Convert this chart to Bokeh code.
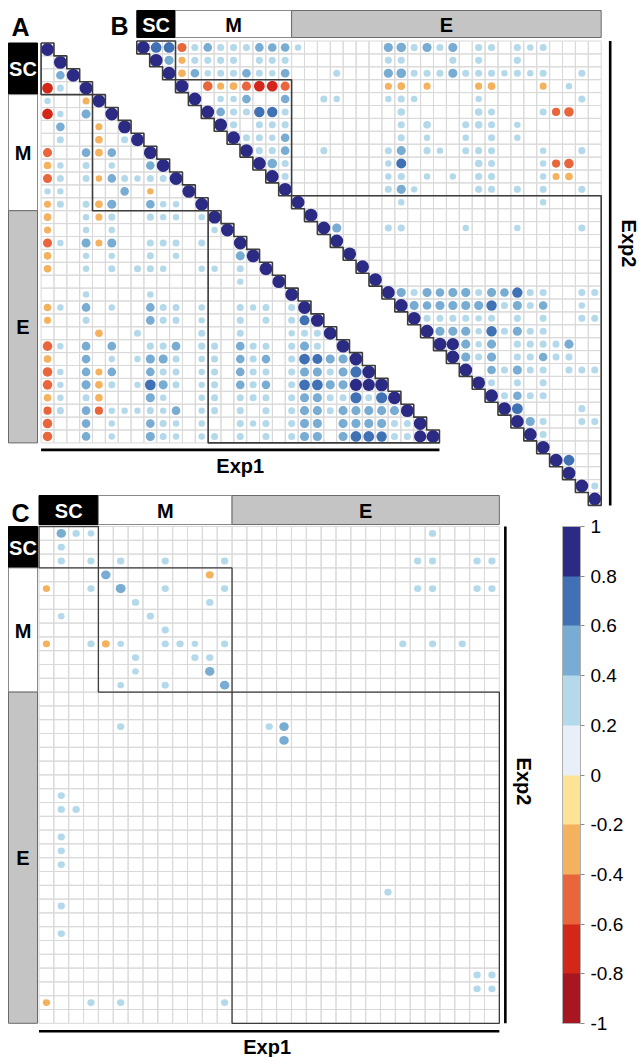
import math
from bokeh.plotting import figure
from bokeh.models import (Range1d, LinearColorMapper, ColorBar, FixedTicker,
                          CustomJSTickFormatter, ColumnDataSource)
from bokeh.core.properties import value
from bokeh.transform import transform
from bokeh.embed import file_html
from bokeh.resources import INLINE

# ---------------- data ----------------
group_names = ["SC", "M", "E"]
exp1_group_sizes = [4, 9, 18]     # 31 variables in Exp1
exp2_group_sizes = [3, 9, 24]     # 36 variables in Exp2

colorbar_ticks = [-1, -0.8, -0.6, -0.4, -0.2, 0, 0.2, 0.4, 0.6, 0.8, 1]
palette = ["#a8161f", "#d3271a", "#e9663c", "#f4b15e", "#fde396",
           "#e9eff6", "#b4d9ea", "#78acd3", "#4171b5", "#2b2a85"]

# Panel A: Exp1 correlations (lower triangle), row -> {col: r}
exp1_corr = [
    {0: 1.0},
    {1: 1.0},
    {1: 0.45, 2: 1.0},
    {0: -0.7, 1: 0.3, 3: 1.0},
    {0: 0.25, 3: -0.3, 4: 1.0},
    {0: -0.7, 1: 0.25, 3: 0.5, 5: 1.0},
    {1: 0.45, 4: -0.3, 6: 1.0},
    {1: 0.3, 4: -0.35, 6: 0.3, 7: 1.0},
    {0: -0.5, 3: 0.45, 4: -0.35, 5: 0.45, 8: 1.0},
    {0: -0.35, 1: 0.25, 3: 0.3, 5: 0.25, 8: 0.45, 9: 1.0},
    {0: -0.5, 1: 0.3, 3: 0.3, 4: -0.25, 5: 0.45, 6: 0.3, 7: 0.25, 8: 0.3, 9: 0.3, 10: 1.0},
    {0: 0.25, 1: 0.25, 6: 0.45, 8: -0.25, 11: 1.0},
    {0: -0.3, 1: 0.3, 3: 0.3, 4: -0.35, 5: 0.5, 8: 0.45, 9: 0.25, 10: 0.25, 12: 1.0},
    {0: -0.35, 3: 0.25, 4: -0.3, 5: 0.3, 8: 0.3, 9: 0.25, 10: 0.25, 12: 0.25, 13: 1.0},
    {0: -0.3, 3: 0.25, 5: 0.25, 13: 0.25, 14: 1.0},
    {0: -0.5, 1: 0.25, 3: 0.5, 4: -0.3, 5: 0.5, 8: 0.3, 9: 0.3, 10: 0.3, 12: 0.3, 15: 1.0},
    {0: -0.35, 3: 0.25, 5: 0.25, 8: 0.3, 10: 0.25, 15: 0.5, 16: 1.0},
    {0: -0.35, 3: 0.25, 5: 0.3, 7: 0.3, 8: 0.3, 9: 0.25, 12: 0.25, 13: 0.25, 15: 0.3, 17: 1.0},
    {15: 0.25, 18: 1.0},
    {3: 0.25, 8: 0.25, 19: 1.0},
    {0: -0.35, 1: 0.25, 3: 0.45, 5: 0.25, 8: 0.45, 9: 0.3, 10: 0.3, 12: 0.25, 15: 0.3, 16: 0.25,
     17: 0.3, 19: 0.3, 20: 1.0},
    {0: -0.3, 3: 0.3, 8: 0.45, 9: 0.3, 10: 0.3, 12: 0.25, 15: 0.3, 17: 0.3, 19: 0.3, 20: 0.6, 21: 1.0},
    {4: -0.35, 7: 0.3, 12: 0.3, 15: 0.3, 19: 0.25, 20: 0.3, 21: 0.3, 22: 1.0},
    {0: -0.55, 1: 0.25, 3: 0.45, 5: 0.45, 8: 0.3, 9: 0.3, 10: 0.45, 12: 0.3, 13: 0.3, 15: 0.45,
     16: 0.3, 17: 0.3, 19: 0.3, 20: 0.5, 21: 0.3, 23: 1.0},
    {0: -0.35, 3: 0.45, 5: 0.25, 7: 0.25, 8: 0.5, 9: 0.5, 10: 0.3, 12: 0.25, 13: 0.3, 15: 0.45,
     16: 0.3, 17: 0.45, 19: 0.3, 20: 0.7, 21: 0.6, 22: 0.5, 23: 0.5, 24: 1.0},
    {0: -0.55, 1: 0.25, 3: 0.45, 4: -0.3, 5: 0.45, 8: 0.45, 9: 0.3, 10: 0.3, 12: 0.25, 13: 0.3,
     15: 0.45, 16: 0.3, 17: 0.3, 19: 0.3, 20: 0.5, 21: 0.5, 22: 0.3, 23: 0.5, 24: 0.75, 25: 1.0},
    {0: -0.55, 1: 0.25, 3: 0.5, 4: -0.35, 5: 0.3, 7: 0.25, 8: 0.7, 9: 0.5, 10: 0.3, 12: 0.25,
     13: 0.3, 15: 0.45, 16: 0.3, 17: 0.45, 19: 0.3, 20: 0.7, 21: 0.7, 22: 0.5, 23: 0.5, 24: 0.9,
     25: 0.9, 26: 1.0},
    {0: -0.35, 1: 0.25, 3: 0.3, 4: -0.35, 8: 0.5, 9: 0.25, 12: 0.25, 13: 0.3, 15: 0.3, 16: 0.3,
     17: 0.3, 19: 0.3, 20: 0.5, 21: 0.5, 22: 0.3, 23: 0.3, 24: 0.75, 25: 0.3, 26: 0.75, 27: 1.0},
    {0: -0.4, 1: 0.3, 3: 0.45, 4: -0.4, 5: 0.25, 6: 0.25, 7: 0.25, 8: 0.3, 9: 0.25, 10: 0.45,
     12: 0.25, 13: 0.3, 15: 0.3, 17: 0.3, 19: 0.3, 20: 0.5, 21: 0.5, 22: 0.3, 23: 0.5, 24: 0.5,
     25: 0.5, 26: 0.5, 27: 0.5, 28: 1.0},
    {0: -0.55, 3: 0.45, 5: 0.25, 8: 0.45, 9: 0.3, 10: 0.25, 12: 0.25, 15: 0.3, 16: 0.25, 17: 0.3,
     19: 0.3, 20: 0.5, 21: 0.5, 23: 0.5, 24: 0.5, 25: 0.5, 26: 0.5, 27: 0.3, 28: 0.3, 29: 1.0},
    {0: -0.55, 3: 0.45, 5: 0.25, 8: 0.5, 9: 0.3, 10: 0.25, 12: 0.25, 13: 0.3, 15: 0.3, 17: 0.3,
     19: 0.3, 20: 0.5, 21: 0.5, 23: 0.5, 24: 0.7, 25: 0.7, 26: 0.65, 27: 0.3, 28: 0.3, 29: 0.9, 30: 1.0},
]

# Panel B: Exp2 correlations (upper triangle), row -> {col: r}
exp2_corr = [
    {0: 1.0, 1: 0.7, 2: 0.7, 3: -0.5, 4: 0.3, 5: 0.45, 6: 0.3, 7: 0.3, 8: 0.3, 9: 0.45, 10: 0.45,
     11: 0.45, 12: 0.25, 19: 0.5, 20: 0.55, 21: 0.3, 22: 0.5, 23: 0.3, 24: 0.5, 26: 0.3, 27: 0.3,
     29: 0.3, 30: 0.25, 31: 0.3},
    {1: 1.0, 2: 0.5, 3: -0.3, 4: 0.3, 5: 0.3, 6: 0.3, 7: 0.3, 9: 0.3, 10: 0.3, 11: 0.3, 19: 0.3,
     20: 0.3, 24: 0.3, 26: 0.3, 29: 0.3},
    {2: 1.0, 3: -0.35, 4: 0.45, 5: 0.25, 6: 0.3, 7: 0.3, 8: 0.45, 9: 0.3, 10: 0.25, 11: 0.45,
     15: 0.3, 19: 0.5, 20: 0.55, 21: 0.3, 22: 0.3, 23: 0.3, 24: 0.5, 25: 0.3, 26: 0.3, 27: 0.3,
     28: 0.25, 29: 0.3, 30: 0.25, 31: 0.3, 34: 0.3},
    {3: 1.0, 5: -0.55, 6: -0.3, 7: -0.35, 8: -0.5, 9: -0.7, 10: -0.7, 11: -0.5, 19: -0.3,
     20: -0.35, 22: -0.3, 26: -0.3, 27: -0.35, 31: -0.3, 33: 0.25},
    {4: 1.0, 6: 0.25, 7: 0.25, 8: 0.45, 11: 0.45, 14: 0.3, 15: 0.25, 19: 0.25, 20: 0.3, 21: 0.25,
     26: 0.25, 34: 0.3},
    {5: 1.0, 6: 0.45, 7: 0.3, 8: 0.3, 9: 0.65, 10: 0.65, 11: 0.3, 20: 0.35, 26: 0.35, 27: 0.3,
     31: 0.3, 32: -0.4, 33: -0.55},
    {6: 1.0, 7: 0.3, 9: 0.3, 10: 0.3, 11: 0.3, 20: 0.3, 22: 0.35, 25: 0.3, 26: 0.35, 27: 0.3, 29: 0.25},
    {7: 1.0, 8: 0.3, 9: 0.3, 10: 0.25, 11: 0.45, 20: 0.3, 22: 0.25, 25: 0.25, 27: 0.3, 29: 0.25},
    {8: 1.0, 9: 0.3, 10: 0.3, 11: 0.45, 14: 0.3, 19: 0.3, 20: 0.5, 22: 0.3, 23: 0.25, 25: 0.3,
     26: 0.3, 27: 0.3, 31: 0.25, 34: 0.3},
    {9: 1.0, 10: 0.55, 11: 0.3, 19: 0.25, 20: 0.6, 26: 0.35, 27: 0.3, 31: 0.25, 32: -0.4, 33: -0.55},
    {10: 1.0, 11: 0.3, 19: 0.25, 20: 0.3, 22: 0.25, 24: 0.25, 26: 0.3, 27: 0.3, 31: 0.25,
     32: -0.3, 33: -0.35},
    {11: 1.0, 19: 0.3, 20: 0.5, 21: 0.25, 26: 0.3, 27: 0.3, 29: 0.3, 31: 0.3, 34: 0.3},
    {12: 1.0, 20: 0.25, 31: 0.25},
    {13: 1.0},
    {14: 1.0, 15: 0.5, 19: 0.3, 20: 0.3, 25: 0.25, 29: 0.25, 34: 0.3},
    {15: 1.0},
    {16: 1.0},
    {17: 1.0},
    {18: 1.0},
    {19: 1.0, 20: 0.5, 21: 0.3, 22: 0.5, 23: 0.45, 24: 0.5, 25: 0.5, 26: 0.3, 27: 0.5, 28: 0.45,
     29: 0.65, 30: 0.3, 31: 0.3, 34: 0.3, 35: 0.3},
    {20: 1.0, 21: 0.5, 22: 0.45, 23: 0.5, 24: 0.5, 25: 0.5, 26: 0.5, 27: 0.65, 28: 0.3, 29: 0.5,
     30: 0.3, 31: 0.45, 34: 0.25},
    {21: 1.0, 22: 0.3, 23: 0.3, 24: 0.3, 25: 0.3, 26: 0.25, 27: 0.3, 29: 0.3, 31: 0.3, 34: 0.3, 35: 0.3},
    {22: 1.0, 23: 0.5, 24: 0.5, 25: 0.5, 26: 0.25, 27: 0.65, 28: 0.3, 29: 0.5, 30: 0.3, 31: 0.3},
    {23: 1.0, 24: 0.9, 25: 0.5, 26: 0.25, 27: 0.5, 29: 0.3, 30: 0.3, 31: 0.3, 32: 0.3, 33: 0.5},
    {24: 1.0, 25: 0.5, 26: 0.3, 27: 0.5, 29: 0.3, 30: 0.3, 31: 0.45, 32: 0.3, 33: 0.3},
    {25: 1.0, 27: 0.45, 28: 0.3, 29: 0.5, 30: 0.3, 31: 0.3, 33: 0.3, 34: 0.3, 35: 0.3},
    {26: 1.0, 27: 0.3, 29: 0.3, 31: 0.3},
    {27: 1.0, 28: 0.3, 29: 0.45, 30: 0.3, 31: 0.3},
    {28: 1.0, 29: 0.7, 34: 0.3},
    {29: 1.0, 30: 0.5, 31: 0.3, 34: 0.3, 35: 0.3},
    {30: 1.0, 31: 0.3},
    {31: 1.0},
    {32: 1.0, 33: 0.7},
    {33: 1.0},
    {34: 1.0, 35: 0.3},
    {35: 1.0},
]

# Panel C: Exp2 (rows) x Exp1 (columns) cross correlations
cross_corr = [
    {1: 0.5, 2: 0.3, 3: 0.25, 26: 0.3},
    {1: 0.3},
    {1: 0.3, 3: 0.3, 5: 0.3, 8: 0.3, 12: 0.3, 25: 0.3, 26: 0.3, 29: 0.3, 30: 0.3},
    {4: 0.5, 11: -0.35},
    {0: -0.3, 3: 0.3, 5: 0.55, 8: 0.3, 12: 0.3, 25: 0.3, 26: 0.3, 29: 0.3, 30: 0.3},
    {6: 0.3, 11: 0.3},
    {1: 0.25, 7: 0.3},
    {8: 0.3},
    {0: -0.3, 3: 0.3, 4: -0.35, 5: 0.25, 8: 0.3, 9: 0.3, 10: 0.25, 12: 0.3, 24: 0.3, 26: 0.3, 28: 0.3},
    {6: 0.3, 10: 0.3, 11: 0.3},
    {6: 0.25, 11: 0.5},
    {5: 0.25, 8: 0.3, 12: 0.5},
    {},
    {},
    {5: 0.3, 15: 0.3, 16: 0.5},
    {16: 0.5},
    {},
    {},
    {},
    {1: 0.3},
    {1: 0.3, 2: 0.3},
    {},
    {1: 0.3},
    {1: 0.3},
    {1: 0.3},
    {},
    {23: 0.3},
    {1: 0.3},
    {},
    {1: 0.3},
    {},
    {},
    {29: 0.3, 30: 0.3},
    {29: 0.3, 30: 0.3},
    {0: -0.3, 3: 0.3, 5: 0.3, 12: 0.3},
    {},
]

# ---------------- layout (pixels) ----------------
W, H = 639, 1057
A_X0, A_Y0, A_CW, A_CH = 40.6, 42.5, 12.85, 12.9
B_X0, B_Y0, B_CW, B_CH = 136.3, 40.5, 12.9, 12.9
C_X0, C_Y0, C_CW, C_CH = 38.5, 526.0, 14.85, 13.8
FONT_NAME = "Liberation Sans"
FONT = value(FONT_NAME)
GRID_COLOR = "#d9d9d9"
BOX_COLOR = "#3c3c3c"
HDR_FILL = {"SC": "#000000", "M": "#ffffff", "E": "#c4c4c4"}
HDR_TEXT = {"SC": "#ffffff", "M": "#000000", "E": "#000000"}
HDR_LINE = {"SC": "#000000", "M": "#8a8a8a", "E": "#6a6a6a"}

p = figure(width=W, height=H, x_range=Range1d(0, W), y_range=Range1d(H, 0),
           output_backend="svg", toolbar_location=None, min_border=0,
           x_axis_location=None, y_axis_location=None)
p.grid.visible = False
p.outline_line_color = None
p.background_fill_color = "white"


def prange(x0, y0, cw, ch):
    return (Range1d(-x0 / cw - 0.5, (W - x0) / cw - 0.5),
            Range1d((H - y0) / ch - 0.5, -y0 / ch - 0.5))


xa, ya = prange(A_X0, A_Y0, A_CW, A_CH)
xb, yb = prange(B_X0, B_Y0, B_CW, B_CH)
xc, yc = prange(C_X0, C_Y0, C_CW, C_CH)
p.extra_x_ranges = {"A": xa, "B": xb, "C": xc}
p.extra_y_ranges = {"A": ya, "B": yb, "C": yc}

mapper = LinearColorMapper(palette=palette, low=-1, high=1)


def bounds(sizes):
    out = [0]
    for s in sizes:
        out.append(out[-1] + s)
    return out


b1 = bounds(exp1_group_sizes)
b2 = bounds(exp2_group_sizes)
n1, n2 = b1[-1], b2[-1]


# ---- grid cells ----
def grid(name, nr, nc, keep):
    xs, ys = [], []
    for r in range(nr):
        for c in range(nc):
            if keep(r, c):
                xs.append(c)
                ys.append(r)
    p.rect(x=xs, y=ys, width=1, height=1, fill_color=None, line_color=GRID_COLOR,
           line_width=1, x_range_name=name, y_range_name=name)


grid("A", n1, n1, lambda r, c: c <= r)
grid("B", n2, n2, lambda r, c: c >= r)
grid("C", n2, n1, lambda r, c: True)


# ---- correlation dots (area ~ |r|) ----
def dots(name, rows, scale):
    xs, ys, vs, ds = [], [], [], []
    for r, row in enumerate(rows):
        for c, v in row.items():
            xs.append(c)
            ys.append(r)
            vs.append(v)
            ds.append(scale * math.sqrt(abs(v)))
    src = ColumnDataSource(dict(x=xs, y=ys, v=vs, d=ds))
    p.ellipse(x="x", y="y", width="d", height="d", source=src,
              fill_color=transform("v", mapper), line_color=None,
              x_range_name=name, y_range_name=name)


dots("A", exp1_corr, 1.0)
dots("B", exp2_corr, 1.0)
dots("C", cross_corr, 0.9)


# ---- block outlines ----
def lower_block(s, e):
    xs = [s - 0.5, s - 0.5, e - 0.5]
    ys = [s - 0.5, e - 0.5, e - 0.5]
    for k in range(e - 1, s - 1, -1):
        xs += [k + 0.5, k - 0.5]
        ys += [k - 0.5, k - 0.5]
    return xs, ys


def upper_block(s, e):
    xs = [s - 0.5, e - 0.5, e - 0.5]
    ys = [s - 0.5, s - 0.5, e - 0.5]
    for k in range(e - 1, s - 1, -1):
        xs += [k - 0.5, k - 0.5]
        ys += [k + 0.5, k - 0.5]
    return xs, ys


la = [lower_block(b1[i], b1[i + 1]) for i in range(3)]
p.multi_line(xs=[a[0] for a in la], ys=[a[1] for a in la], line_color=BOX_COLOR,
             line_width=1.6, x_range_name="A", y_range_name="A")
ub = [upper_block(b2[i], b2[i + 1]) for i in range(3)]
p.multi_line(xs=[a[0] for a in ub], ys=[a[1] for a in ub], line_color=BOX_COLOR,
             line_width=1.6, x_range_name="B", y_range_name="B")
p.quad(left=[b1[i] - 0.5 for i in range(3)], right=[b1[i + 1] - 0.5 for i in range(3)],
       top=[b2[i] - 0.5 for i in range(3)], bottom=[b2[i + 1] - 0.5 for i in range(3)],
       fill_color=None, line_color=BOX_COLOR, line_width=1.3,
       x_range_name="C", y_range_name="C")

# ---- group header boxes (pixel space) ----
hl, hr, ht, hb, hf, hc, tx, ty, tt, tcol = [], [], [], [], [], [], [], [], [], []


def header(l, r, t, b, g):
    hl.append(l); hr.append(r); ht.append(t); hb.append(b)
    hf.append(HDR_FILL[g]); hc.append(HDR_LINE[g])
    tx.append((l + r) / 2); ty.append((t + b) / 2 + 0.5); tt.append(g); tcol.append(HDR_TEXT[g])


for i, g in enumerate(group_names):
    header(8, 37, A_Y0 + b1[i] * A_CH, A_Y0 + b1[i + 1] * A_CH, g)
    header(B_X0 + b2[i] * B_CW, B_X0 + b2[i + 1] * B_CW, B_Y0 - 30.5, B_Y0 - 3.5, g)
    header(C_X0 + b1[i] * C_CW, C_X0 + b1[i + 1] * C_CW, C_Y0 - 31, C_Y0 - 2, g)
    header(8, 37, C_Y0 + b2[i] * C_CH, C_Y0 + b2[i + 1] * C_CH, g)

p.quad(left=hl, right=hr, top=ht, bottom=hb, fill_color=hf, line_color=hc, line_width=1)
p.text(x=tx, y=ty, text=tt, text_color=tcol, text_font=FONT, text_font_style="bold",
       text_font_size="20px", text_align="center", text_baseline="middle")

# ---- panel letters ----
p.text(x=[20, 119, 20], y=[26, 25, 512], text=["A", "B", "C"], text_font=FONT,
       text_font_style="bold", text_font_size="25px", text_align="center",
       text_baseline="middle", text_color="black")

# ---- Exp1 / Exp2 axis bars ----
p.segment(x0=[A_X0, B_X0 + n2 * B_CW + 9, C_X0, C_X0 + n1 * C_CW + 6],
          y0=[A_Y0 + n1 * A_CH + 7, B_Y0, C_Y0 + n2 * C_CH + 8, C_Y0],
          x1=[A_X0 + n1 * A_CW, B_X0 + n2 * B_CW + 9, C_X0 + n1 * C_CW, C_X0 + n1 * C_CW + 6],
          y1=[A_Y0 + n1 * A_CH + 7, B_Y0 + n2 * B_CH, C_Y0 + n2 * C_CH + 8, C_Y0 + n2 * C_CH],
          line_color="black", line_width=2.6)
p.text(x=[A_X0 + n1 * A_CW / 2, C_X0 + n1 * C_CW / 2 - 2], y=[465, 1046], text=["Exp1", "Exp1"],
       text_font=FONT, text_font_style="bold", text_font_size="20px",
       text_align="center", text_baseline="middle", text_color="black")
p.text(x=[628, 523], y=[243, 781], text=["Exp2", "Exp2"], angle=-math.pi / 2,
       text_font=FONT, text_font_style="bold", text_font_size="20px",
       text_align="center", text_baseline="middle", text_color="black")

# ---- color bar ----
cb = ColorBar(color_mapper=mapper, ticker=FixedTicker(ticks=colorbar_ticks),
              formatter=CustomJSTickFormatter(
                  code="return tick.toFixed(1).replace(/\\.0$/, '').replace(/^-0$/, '0')"),
              location=(562, 34), width=18, height=497, padding=0,
              orientation="vertical", major_label_text_font=FONT_NAME,
              major_label_text_font_size="19px", major_label_text_color="black",
              major_tick_in=0, major_tick_out=4, major_tick_line_color="#8a8a8a",
              minor_tick_line_color=None, bar_line_color="#b0b0b0",
              label_standoff=6, background_fill_alpha=0, border_line_color=None)
p.add_layout(cb, "center")

open("out.html", "w").write(file_html(p, INLINE))
